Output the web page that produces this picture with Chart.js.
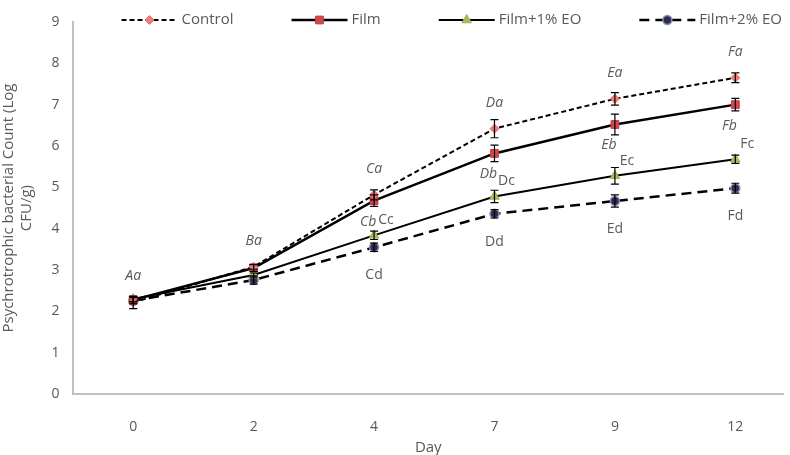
<!DOCTYPE html>
<html>
<head>
<meta charset="utf-8">
<script src="https://cdn.jsdelivr.net/npm/chart.js"></script>
<style>
  html, body { margin: 0; padding: 0; background: #fff; }
  #wrap { width: 790px; height: 455px; }
</style>
</head>
<body>
<div id="wrap"><canvas id="chart" width="790" height="455"></canvas></div>
<script>
// data
const days = ['0', '2', '4', '7', '9', '12'];
const seriesNames = ['Control', 'Film', 'Film+1% EO', 'Film+2% EO'];

const control = [2.22, 3.08, 4.82, 6.42, 7.14, 7.65];
const film = [2.28, 3.05, 4.68, 5.82, 6.52, 7.0];
const film1 = [2.3, 2.88, 3.84, 4.78, 5.28, 5.68];
const film2 = [2.26, 2.76, 3.55, 4.36, 4.67, 4.98];

const controlErr = [0.15, 0.06, 0.12, 0.22, 0.15, 0.12];
const filmErr = [0.08, 0.08, 0.14, 0.2, 0.25, 0.15];
const film1Err = [0.06, 0.05, 0.1, 0.15, 0.2, 0.1];
const film2Err = [0.08, 0.1, 0.1, 0.1, 0.15, 0.12];

const controlLetters = ['Aa', 'Ba', 'Ca', 'Da', 'Ea', 'Fa'];
const filmLetters = ['', '', 'Cb', 'Db', 'Eb', 'Fb'];
const film1Letters = ['', '', 'Cc', 'Dc', 'Ec', 'Fc'];
const film2Letters = ['', '', 'Cd', 'Dd', 'Ed', 'Fd'];

const textColor = '#595959';
const font = "'Open Sans', 'Noto Sans', sans-serif";

function pts(values) {
    return values.map((v, i) => ({ x: i, y: v }));
}

const allErr = [controlErr, filmErr, film1Err, film2Err];
const allLetters = [controlLetters, filmLetters, film1Letters, film2Letters];
// where each series puts its letters, relative to the point
const letterStyle = [
    { dx: 0, dy: -26, italic: true },
    { dx: -6, dy: 21, italic: true },
    { dx: 12, dy: -15, italic: false },
    { dx: 0, dy: 28, italic: false }
];

const errorBars = {
    id: 'errorBars',
    afterDatasetsDraw(chart) {
        const ctx = chart.ctx;
        const xs = chart.scales.x, ys = chart.scales.y;
        ctx.save();
        chart.data.datasets.forEach((ds, di) => {
            ds.data.forEach((p, i) => {
                const e = allErr[di][i];
                const x = xs.getPixelForValue(p.x);
                const yt = ys.getPixelForValue(p.y + e);
                const yb = ys.getPixelForValue(p.y - e);
                ctx.strokeStyle = '#000';
                ctx.lineWidth = 1.2;
                ctx.beginPath();
                ctx.moveTo(x, yt); ctx.lineTo(x, yb);
                ctx.moveTo(x - 4, yt); ctx.lineTo(x + 4, yt);
                ctx.moveTo(x - 4, yb); ctx.lineTo(x + 4, yb);
                ctx.stroke();
            });
        });
        // letters
        ctx.fillStyle = textColor;
        ctx.textAlign = 'center';
        ctx.textBaseline = 'middle';
        chart.data.datasets.forEach((ds, di) => {
            const st = letterStyle[di];
            ctx.font = (st.italic ? 'italic ' : '') + '14px ' + font;
            ds.data.forEach((p, i) => {
                const t = allLetters[di][i];
                if (!t) return;
                const x = xs.getPixelForValue(p.x) + st.dx;
                const y = ys.getPixelForValue(p.y) + st.dy;
                ctx.fillText(t, x, y);
            });
        });
        ctx.restore();
    }
};

// legend: line sample with its marker, then the name
const lineLegend = {
    id: 'lineLegend',
    afterDraw(chart) {
        const ctx = chart.ctx;
        const sample = 56, gap = 4, between = 58, yMid = 20;
        ctx.save();
        ctx.font = '15px ' + font;
        const widths = chart.data.datasets.map(ds => sample + gap + ctx.measureText(ds.label).width);
        const total = widths.reduce((a, b) => a + b, 0) + between * (widths.length - 1);
        let x = chart.width - 8 - total;
        chart.data.datasets.forEach((ds, i) => {
            ctx.strokeStyle = ds.borderColor;
            ctx.lineWidth = ds.borderWidth;
            ctx.setLineDash(ds.borderDash || []);
            ctx.beginPath();
            ctx.moveTo(x, yMid); ctx.lineTo(x + sample, yMid);
            ctx.stroke();
            ctx.setLineDash([]);
            ctx.fillStyle = ds.pointBackgroundColor;
            ctx.strokeStyle = ds.pointBorderColor;
            ctx.lineWidth = ds.pointBorderWidth;
            Chart.helpers.drawPoint(ctx, {
                pointStyle: ds.pointStyle,
                radius: ds.pointRadius,
                rotation: 0,
                borderWidth: ds.pointBorderWidth
            }, x + sample / 2, yMid);
            ctx.fillStyle = textColor;
            ctx.textAlign = 'left';
            ctx.textBaseline = 'middle';
            ctx.fillText(ds.label, x + sample + gap, yMid);
            x += widths[i] + between;
        });
        ctx.restore();
    }
};

new Chart(document.getElementById('chart'), {
    type: 'line',
    data: {
        datasets: [
            {
                label: seriesNames[0],
                data: pts(control),
                borderColor: '#000',
                borderWidth: 2,
                borderDash: [5, 3],
                pointStyle: 'rectRot',
                pointRadius: 4.5,
                pointBackgroundColor: '#f27c7c',
                pointBorderColor: '#e86a6a',
                pointBorderWidth: 1
            },
            {
                label: seriesNames[1],
                data: pts(film),
                borderColor: '#000',
                borderWidth: 2.5,
                pointStyle: 'rect',
                pointRadius: 5.5,
                pointBackgroundColor: '#d0484a',
                pointBorderColor: '#c0404a',
                pointBorderWidth: 1
            },
            {
                label: seriesNames[2],
                data: pts(film1),
                borderColor: '#000',
                borderWidth: 2,
                pointStyle: 'triangle',
                pointRadius: 5.5,
                pointBackgroundColor: '#a5bd62',
                pointBorderColor: '#9bb55a',
                pointBorderWidth: 1
            },
            {
                label: seriesNames[3],
                data: pts(film2),
                borderColor: '#000',
                borderWidth: 2.5,
                borderDash: [10, 6],
                pointStyle: 'circle',
                pointRadius: 4.5,
                pointBackgroundColor: '#2c2c58',
                pointBorderColor: '#9090aa',
                pointBorderWidth: 1.5
            }
        ]
    },
    options: {
        responsive: false,
        animation: false,
        layout: { padding: { top: 16, left: 0, right: 0, bottom: -2 } },
        plugins: {
            legend: { display: false },
            tooltip: { enabled: false }
        },
        scales: {
            x: {
                type: 'linear',
                min: -0.5,
                max: 5.4,
                afterBuildTicks: s => { s.ticks = days.map((d, i) => ({ value: i })); },
                grid: { display: false, drawTicks: false },
                border: { color: '#bfbfbf', width: 2 },
                ticks: {
                    color: textColor,
                    font: { family: font, size: 14 },
                    padding: 24,
                    callback: v => days[v]
                },
                title: {
                    display: true,
                    text: 'Day',
                    color: textColor,
                    font: { family: font, size: 15 },
                    padding: { top: -20, bottom: 0 }
                }
            },
            y: {
                min: 0,
                max: 9,
                grid: { display: false, drawTicks: false },
                border: { color: '#bfbfbf', width: 2 },
                ticks: {
                    stepSize: 1,
                    color: textColor,
                    font: { family: font, size: 14 },
                    padding: 13.5
                },
                title: {
                    display: true,
                    text: ['Psychrotrophic bacterial Count (Log', 'CFU/g)'],
                    color: textColor,
                    font: { family: font, size: 15 },
                    padding: { top: 0, bottom: 2 }
                }
            }
        }
    },
    plugins: [errorBars, lineLegend]
});
</script>
</body>
</html>
